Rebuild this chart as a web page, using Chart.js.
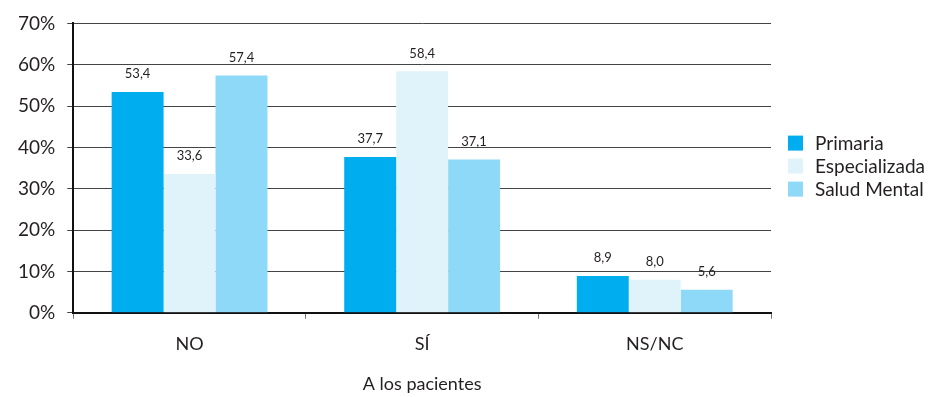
<!DOCTYPE html>
<html>
<head>
<meta charset="utf-8">
<script src="https://cdn.jsdelivr.net/npm/chart.js@4.4.1/dist/chart.umd.min.js"></script>
<style>
  html, body { margin: 0; padding: 0; background: #fff; }
  #wrap { width: 942px; height: 397px; position: relative; }
</style>
</head>
<body>
<div id="wrap"><canvas id="c" width="942" height="397"></canvas></div>
<script>
const categories = ['NO', 'SÍ', 'NS/NC'];
const primaria = [53.4, 37.7, 8.9];
const especializada = [33.6, 58.4, 8.0];
const saludMental = [57.4, 37.1, 5.6];
const seriesNames = ['Primaria', 'Especializada', 'Salud Mental'];
const seriesColors = ['#00aeef', '#e0f3fb', '#8ed8f8'];
const yTicks = [0, 10, 20, 30, 40, 50, 60, 70];

const FONT = 'Lato, "Liberation Sans", sans-serif';
const TEXT = '#231f20';

// Value labels above each bar, written with a decimal comma
const valueLabels = {
  id: 'valueLabels',
  afterDatasetsDraw(chart) {
    const ctx = chart.ctx;
    ctx.save();
    ctx.font = '13px ' + FONT;
    ctx.fillStyle = TEXT;
    ctx.textAlign = 'center';
    ctx.textBaseline = 'middle';
    chart.data.datasets.forEach((ds, i) => {
      chart.getDatasetMeta(i).data.forEach((bar, j) => {
        const txt = ds.data[j].toFixed(1).replace('.', ',');
        ctx.fillText(txt, bar.x, bar.y - 18);
      });
    });
    ctx.restore();
  }
};

// Legend block to the right of the plot, stacked near its middle
const sideLegend = {
  id: 'sideLegend',
  afterDraw(chart) {
    const ctx = chart.ctx;
    const area = chart.chartArea;
    const x0 = area.right + 17;
    const midY = (area.top + area.bottom) / 2;
    const rowH = 23;
    const box = 15;
    ctx.save();
    ctx.font = '19px ' + FONT;
    ctx.textBaseline = 'middle';
    ctx.textAlign = 'left';
    chart.data.datasets.forEach((ds, i) => {
      const cy = midY - 2 + (i - 1) * rowH;
      ctx.fillStyle = ds.backgroundColor;
      ctx.fillRect(x0, cy - box / 2, box, box);
      ctx.fillStyle = TEXT;
      ctx.fillText(ds.label, x0 + 27, cy + 1);
    });
    ctx.restore();
  }
};

new Chart(document.getElementById('c'), {
  type: 'bar',
  data: {
    labels: categories,
    datasets: [primaria, especializada, saludMental].map((vals, i) => ({
      label: seriesNames[i],
      data: vals,
      backgroundColor: seriesColors[i],
      borderWidth: 0,
      categoryPercentage: 0.67,
      barPercentage: 1.0
    }))
  },
  options: {
    responsive: false,
    animation: false,
    layout: { padding: { top: 12, left: 6, right: 171, bottom: 2 } },
    plugins: {
      tooltip: { enabled: false },
      legend: { display: false }
    },
    scales: {
      x: {
        grid: {
          drawOnChartArea: false,
          offset: true,
          color: '#777',
          tickLength: 6,
          lineWidth: 1
        },
        border: { color: '#111', width: 2 },
        ticks: {
          color: TEXT,
          padding: 15,
          font: { family: FONT, size: 18 }
        },
        title: {
          display: true,
          text: 'A los pacientes',
          color: TEXT,
          padding: { top: 3, bottom: 0 },
          font: { family: FONT, size: 18 }
        }
      },
      y: {
        min: 0,
        max: 70,
        afterBuildTicks(scale) { scale.ticks = yTicks.map(v => ({ value: v })); },
        grid: {
          color: '#444',
          lineWidth: 1,
          tickLength: 6
        },
        border: { color: '#111', width: 2 },
        ticks: {
          color: TEXT,
          padding: 12,
          font: { family: FONT, size: 19 },
          callback: v => v + '%'
        }
      }
    }
  },
  plugins: [valueLabels, sideLegend]
});
</script>
</body>
</html>
